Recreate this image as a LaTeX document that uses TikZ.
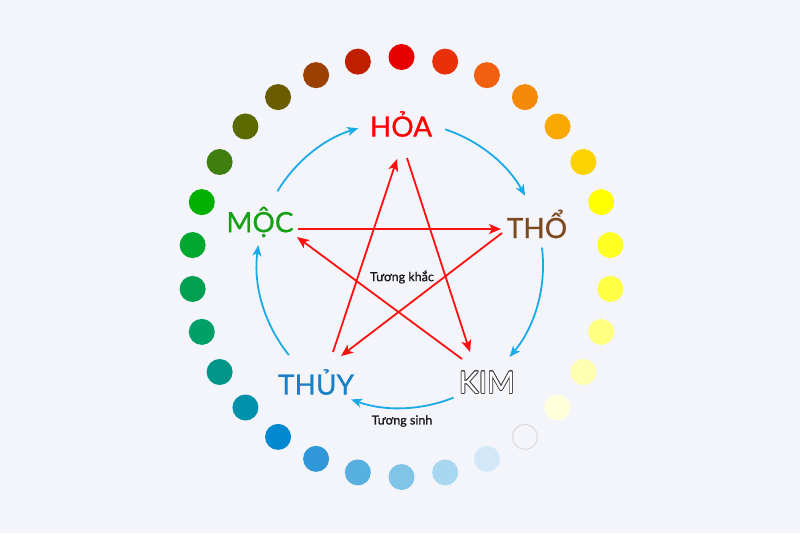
\documentclass[tikz,border=0pt]{standalone}
\usepackage{fontspec}
\setmainfont{Lato}
\newfontfamily\elemfont[FakeBold=0.7]{Lato}
\newfontfamily\smallfont[FakeBold=1.0]{Lato}
\usepackage{contour}
\usetikzlibrary{arrows.meta}
\definecolor{bg}{HTML}{F4F5FA}
\definecolor{hoa}{HTML}{FF0000}
\definecolor{tho}{HTML}{7B4A1E}
\definecolor{moc}{HTML}{16A016}
\definecolor{thuy}{HTML}{1A80C6}
\definecolor{sinh}{HTML}{1AAAE8}
\definecolor{khac}{HTML}{FF1010}
\contourlength{0.7pt}
\tikzset{
  dot/.style={circle, inner sep=0pt, minimum size=26pt, fill=#1},
  elem/.style={font=\elemfont\fontsize{28}{28}\selectfont, inner sep=0pt},
  sinharrow/.style={draw=sinh, line width=1.8pt, -{Stealth[length=11pt,width=9pt,inset=3pt]}},
  khacarrow/.style={draw=khac, line width=1.8pt, -{Stealth[length=12pt,width=10pt,inset=3pt]}},
  small/.style={font=\smallfont\fontsize{12.5}{12.5}\selectfont, text=black!90, inner sep=0pt}
}
\begin{document}
\begin{tikzpicture}[x=1pt,y=-1pt]
\fill[bg] (0,0) rectangle (800,533);
\useasboundingbox (0,0) rectangle (800,533);
% colour ring
\foreach \ang/\col [count=\i] in {
  90/E60000, 78/E8300A, 66/F06010, 54/F58A08, 42/F8A800, 30/FCD200,
  18/FFFF00, 6/FFFF24, -6/FFFF45, -18/FFFF80, -30/FFFFB2, -42/FFFFDC,
  -54/F4F5FA, -66/D2E8F8, -78/A8D8F0, -90/80C4E8, -102/58B0E0, -114/3098D8,
  -126/0088D0, -138/0092AA, -150/009688, -162/00A068, -174/00A050, 174/00A830,
  162/00B000, 150/3F7F10, 138/5A6A00, 126/6B5C00, 114/9A4000, 102/C02000}{
  \definecolor{dc\i}{HTML}{\col}
  \node[dot=dc\i] (d\i) at ([shift={(401.5,267)}]{-\ang}:210) {};
}
\draw[black!15, line width=1pt] (d13) circle[radius=12.5pt];
% element labels
\node[elem, text=hoa] (hoa) at (401,124) {HỎA};
\node[elem, text=tho] (tho) at (537,224) {THỔ};
\node[elem, text=moc] (moc) at (260,222) {MỘC};
\node[elem, text=thuy] (thuy) at (316,382) {THỦY};
\node[elem, font=\setmainfont{Lato}\fontsize{30}{30}\selectfont] (kim) at (487,383) {\contour{black!75}{\textcolor{white}{KIM}}};
\node[small] (khac) at (402,277) {Tương khắc};
\node[small] (sinh) at (402,421) {Tương sinh};
% generating cycle (tuong sinh)
\coordinate (c) at (400,265);
\coordinate (s1) at ([shift={(c)}]-71.6:143);
\coordinate (s2) at ([shift={(c)}]-7:143);
\coordinate (s3) at ([shift={(c)}]68:143);
\coordinate (s4) at ([shift={(c)}]141:143);
\coordinate (s5) at ([shift={(c)}]-149:143);
\draw[sinharrow] (s1) arc[start angle=-71.6, end angle=-29, radius=143];
\draw[sinharrow] (s2) arc[start angle=-7, end angle=40, radius=143];
\draw[sinharrow] (s3) arc[start angle=68, end angle=110, radius=143];
\draw[sinharrow] (s4) arc[start angle=141, end angle=188, radius=143];
\draw[sinharrow] (s5) arc[start angle=-149, end angle=-107, radius=143];
% controlling star (tuong khac)
\coordinate (mocA) at (298,229);
\coordinate (thoB) at (501,229);
\coordinate (thoA) at (502,233);
\coordinate (thuyB) at (341,356);
\coordinate (thuyA) at (333,352);
\coordinate (hoaB) at (397,159);
\coordinate (hoaA) at (407,158);
\coordinate (kimB) at (470,352);
\coordinate (kimA) at (462,359);
\coordinate (mocB) at (297,237);
\draw[khacarrow] (mocA) -- (thoB);
\draw[khacarrow] (thoA) -- (thuyB);
\draw[khacarrow] (thuyA) -- (hoaB);
\draw[khacarrow] (hoaA) -- (kimB);
\draw[khacarrow] (kimA) -- (mocB);
\end{tikzpicture}
\end{document}
